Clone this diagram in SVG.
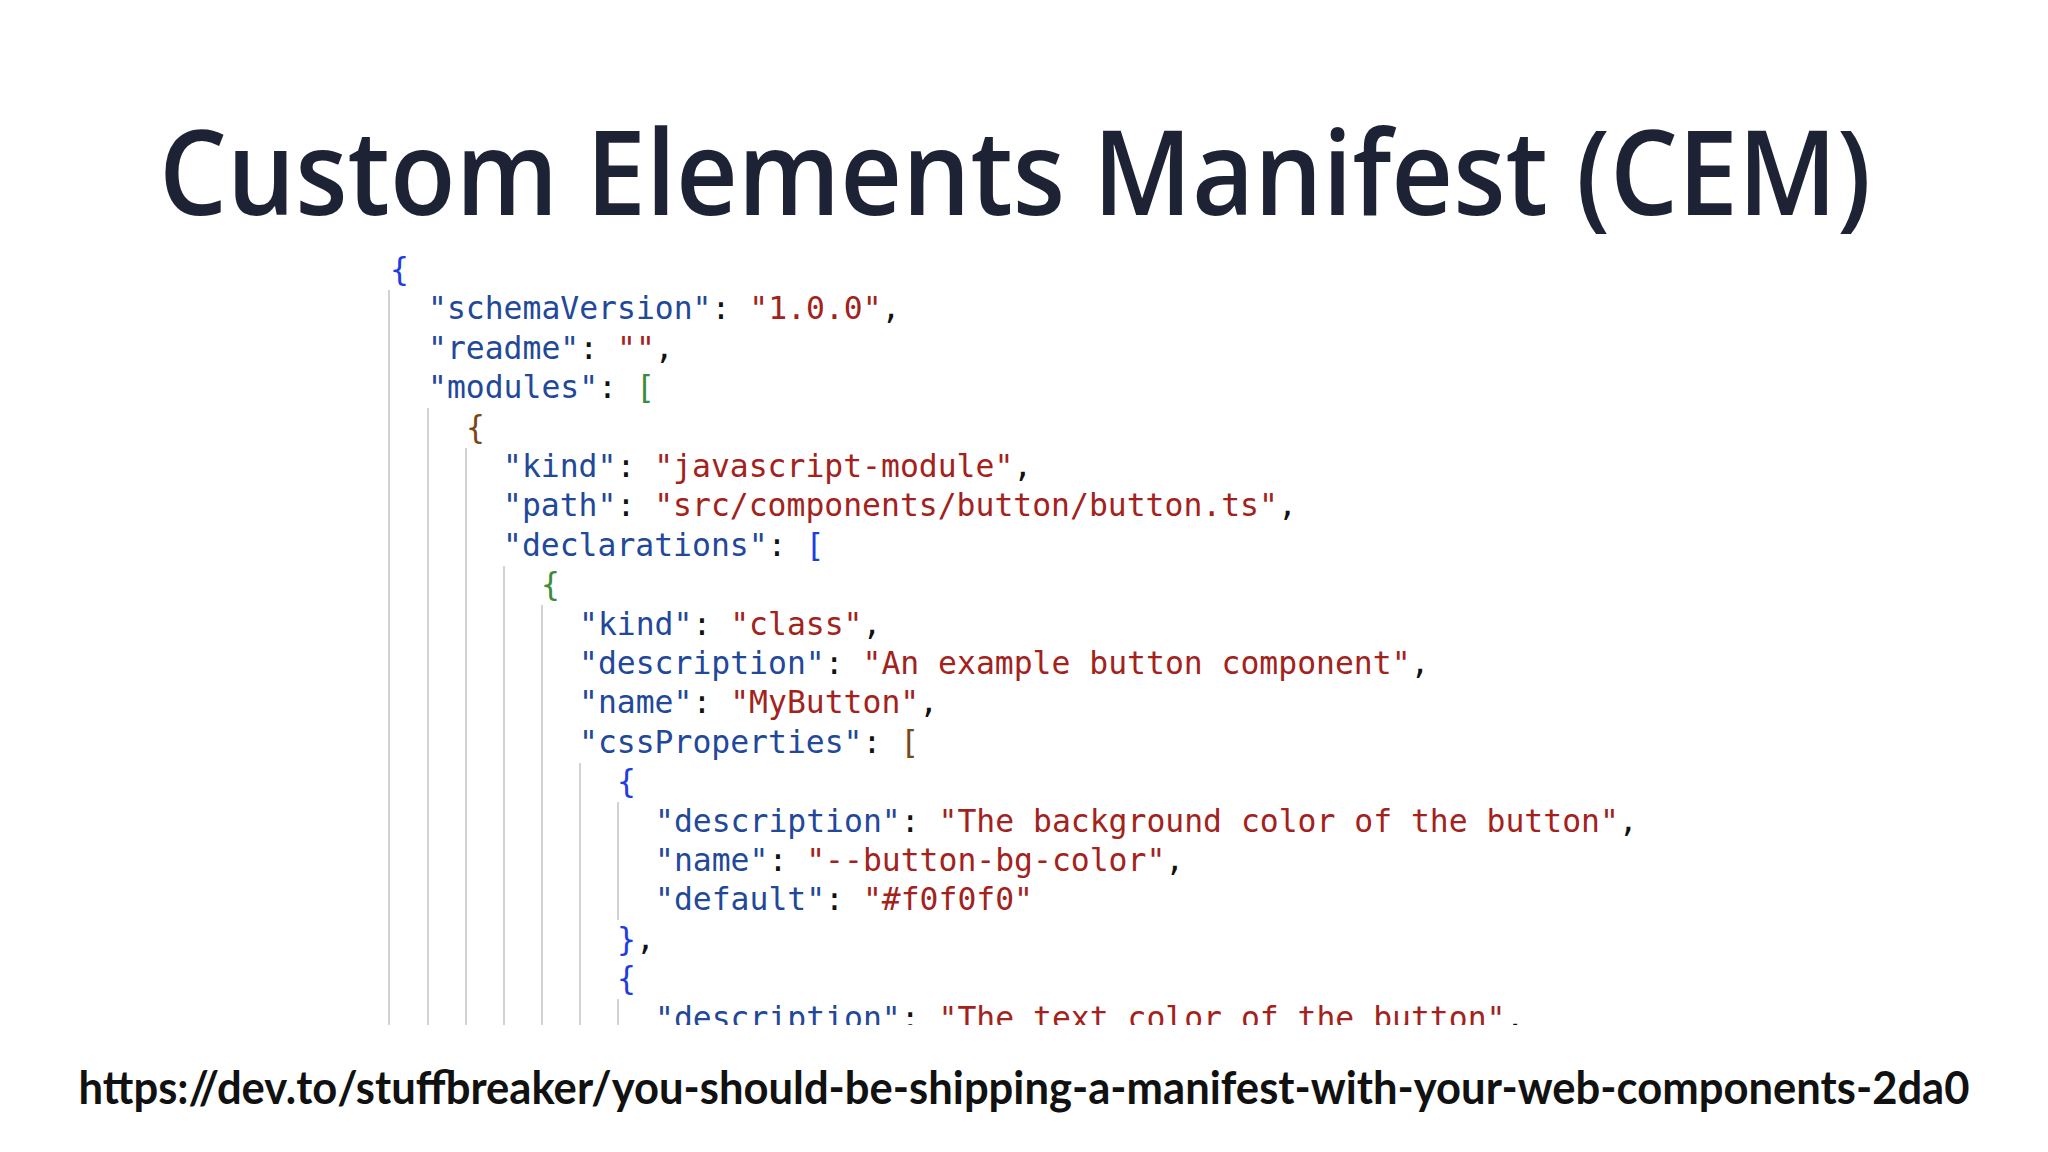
<svg xmlns="http://www.w3.org/2000/svg" width="2048" height="1152" viewBox="0 0 2048 1152">
<style>
.code{font-family:"DejaVu Sans Mono","Liberation Mono",monospace;font-size:31.4px;fill:#111;white-space:pre}
.k{fill:#22489a}.s{fill:#a3221c}.b{fill:#1e3de0}.g{fill:#3b8c3b}.r{fill:#7b4716}
.guide{stroke:#d2d2d2;stroke-width:2}
</style>
<defs><clipPath id="clip"><rect x="0" y="250" width="2048" height="775"/></clipPath></defs>
<rect width="2048" height="1152" fill="#fff"/>
<g id="title"><text x="1015" y="215" text-anchor="middle" font-family="'Open Sans','Noto Sans',sans-serif" font-weight="600" font-size="118" fill="#1e2235" textLength="1712" lengthAdjust="spacingAndGlyphs">Custom Elements Manifest (CEM)</text></g>
<g id="code" clip-path="url(#clip)">
<g id="guides">
<line class="guide" x1="389" y1="290" x2="389" y2="1025"/>
<line class="guide" x1="428" y1="408" x2="428" y2="1025"/>
<line class="guide" x1="466" y1="448" x2="466" y2="1025"/>
<line class="guide" x1="504" y1="566" x2="504" y2="1025"/>
<line class="guide" x1="542" y1="605" x2="542" y2="1025"/>
<line class="guide" x1="580" y1="763" x2="580" y2="1025"/>
<line class="guide" x1="618" y1="802" x2="618" y2="920"/>
<line class="guide" x1="618" y1="999" x2="618" y2="1025"/>
</g>
<text class="code" xml:space="preserve">
<tspan x="390" y="280" class="b">{</tspan>
<tspan x="428" y="319.4"><tspan class="k">"schemaVersion"</tspan>: <tspan class="s">"1.0.0"</tspan>,</tspan>
<tspan x="428" y="358.8"><tspan class="k">"readme"</tspan>: <tspan class="s">""</tspan>,</tspan>
<tspan x="428" y="398.2"><tspan class="k">"modules"</tspan>: <tspan class="g">[</tspan></tspan>
<tspan x="466" y="437.6" class="r">{</tspan>
<tspan x="503" y="477"><tspan class="k">"kind"</tspan>: <tspan class="s">"javascript-module"</tspan>,</tspan>
<tspan x="503" y="516.4"><tspan class="k">"path"</tspan>: <tspan class="s">"src/components/button/button.ts"</tspan>,</tspan>
<tspan x="503" y="555.8"><tspan class="k">"declarations"</tspan>: <tspan class="b">[</tspan></tspan>
<tspan x="541" y="595.2" class="g">{</tspan>
<tspan x="579" y="634.6"><tspan class="k">"kind"</tspan>: <tspan class="s">"class"</tspan>,</tspan>
<tspan x="579" y="674"><tspan class="k">"description"</tspan>: <tspan class="s">"An example button component"</tspan>,</tspan>
<tspan x="579" y="713.4"><tspan class="k">"name"</tspan>: <tspan class="s">"MyButton"</tspan>,</tspan>
<tspan x="579" y="752.8"><tspan class="k">"cssProperties"</tspan>: <tspan class="r">[</tspan></tspan>
<tspan x="617" y="792.2" class="b">{</tspan>
<tspan x="655" y="831.6"><tspan class="k">"description"</tspan>: <tspan class="s">"The background color of the button"</tspan>,</tspan>
<tspan x="655" y="871"><tspan class="k">"name"</tspan>: <tspan class="s">"--button-bg-color"</tspan>,</tspan>
<tspan x="655" y="910.4"><tspan class="k">"default"</tspan>: <tspan class="s">"#f0f0f0"</tspan></tspan>
<tspan x="617" y="949.8"><tspan class="b">}</tspan>,</tspan>
<tspan x="617" y="989.2" class="b">{</tspan>
<tspan x="655" y="1028.6"><tspan class="k">"description"</tspan>: <tspan class="s">"The text color of the button"</tspan>,</tspan>
</text>
</g>
<g id="url"><text x="1024" y="1104" text-anchor="middle" font-family="Lato,'Open Sans',sans-serif" font-weight="bold" font-size="45" fill="#111" textLength="1891" lengthAdjust="spacingAndGlyphs">https://dev.to/stuffbreaker/you-should-be-shipping-a-manifest-with-your-web-components-2da0</text></g>
</svg>
